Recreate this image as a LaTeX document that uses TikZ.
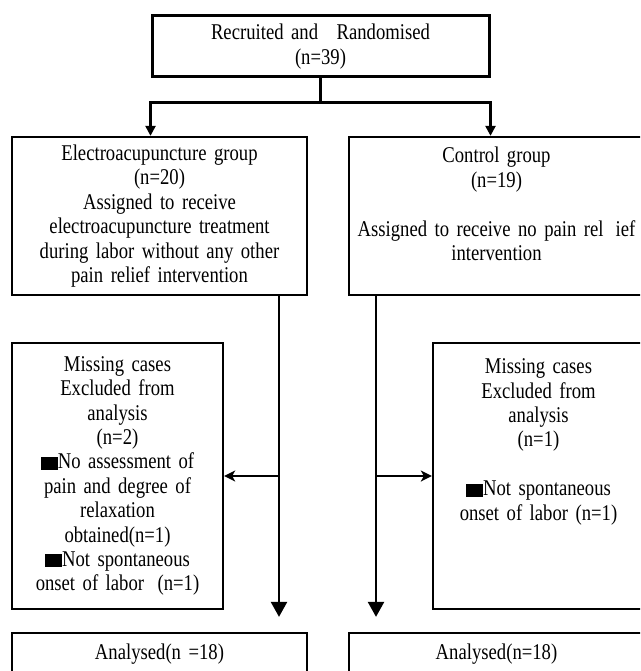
\documentclass[tikz,border=0pt]{standalone}
\usepackage{fontspec}
\setmainfont{Liberation Serif}[FakeStretch=0.83]
\usetikzlibrary{arrows.meta}
\newcommand{\blacksq}{\rule[-1pt]{17pt}{13pt}}
\begin{document}
\begin{tikzpicture}[x=1pt,y=-1pt,
  box/.style={draw,line width=2.3pt,inner sep=0pt,align=center,
    font=\fontsize{22.5}{24.4}\selectfont},
  link/.style={line width=2.3pt},
  arr/.style={line width=2.3pt,-{Triangle[length=10pt,width=10pt]}},
  bigarr/.style={line width=2.5pt,-{Triangle[length=15pt,width=16pt]}},
  sidearr/.style={line width=2.3pt,-{Stealth[length=11pt,width=11pt,inset=3pt]}}]
\clip (0,0) rectangle (640,671);
\node[box,line width=3pt,minimum width=337pt,minimum height=61pt,text width=330pt] (top) at (320.5,46.5)
  {Recruited and\hspace{11pt} Randomised\\(n=39)};
\node[box,minimum width=295pt,minimum height=158pt,text width=290pt] (eag) at (159.5,216)
  {Electroacupuncture group\\(n=20)\\Assigned to receive\\electroacupuncture treatment\\during labor without any other\\pain relief intervention};
\node[box,minimum width=295pt,minimum height=158pt,text width=290pt] (ctl) at (496.5,216)
  {Control group\\(n=19)\\\mbox{}\\Assigned to receive no pain rel\hspace{12pt}ief\\intervention\\\mbox{}};
\node[box,minimum width=211pt,minimum height=266pt,text width=205pt] (misseag) at (117.5,476)
  {Missing cases\\Excluded from\\analysis\\(n=2)\\\blacksq No assessment of\\pain and degree of\\relaxation\\obtained(n=1)\\\blacksq Not spontaneous\\onset of labor\hspace{6pt} (n=1)};
\node[box,minimum width=211pt,minimum height=266pt,text width=205pt] (missctl) at (538.5,476)
  {Missing cases\\Excluded from\\analysis\\(n=1)\\\mbox{}\\\blacksq Not spontaneous\\onset of labor (n=1)\\\mbox{}\\\mbox{}\\\mbox{}};
\node[box,minimum width=295pt,minimum height=42pt,text width=290pt] (anaeag) at (159.5,654)
  {Analysed(n =18)};
\node[box,minimum width=295pt,minimum height=42pt,text width=290pt] (anactl) at (496.5,654)
  {Analysed(n=18)};
\coordinate (split) at ([yshift=-24pt]top.south);
\coordinate (eagdown) at ([xshift=119.5pt]eag.south);
\coordinate (ctldown) at ([xshift=-120.5pt]ctl.south);
\draw[link] (top.south) -- (split);
\draw[arr] (split) -| (top.west |- eag.north);
\draw[arr] (split) -| (top.east |- eag.north);
\draw[bigarr] (eagdown) -- ([yshift=15pt]eagdown |- anaeag.north);
\draw[bigarr] (ctldown) -- ([yshift=15pt]ctldown |- anactl.north);
\draw[sidearr] (eagdown |- misseag.east) -- (misseag.east);
\draw[sidearr] (ctldown |- missctl.west) -- (missctl.west);
\end{tikzpicture}
\end{document}
